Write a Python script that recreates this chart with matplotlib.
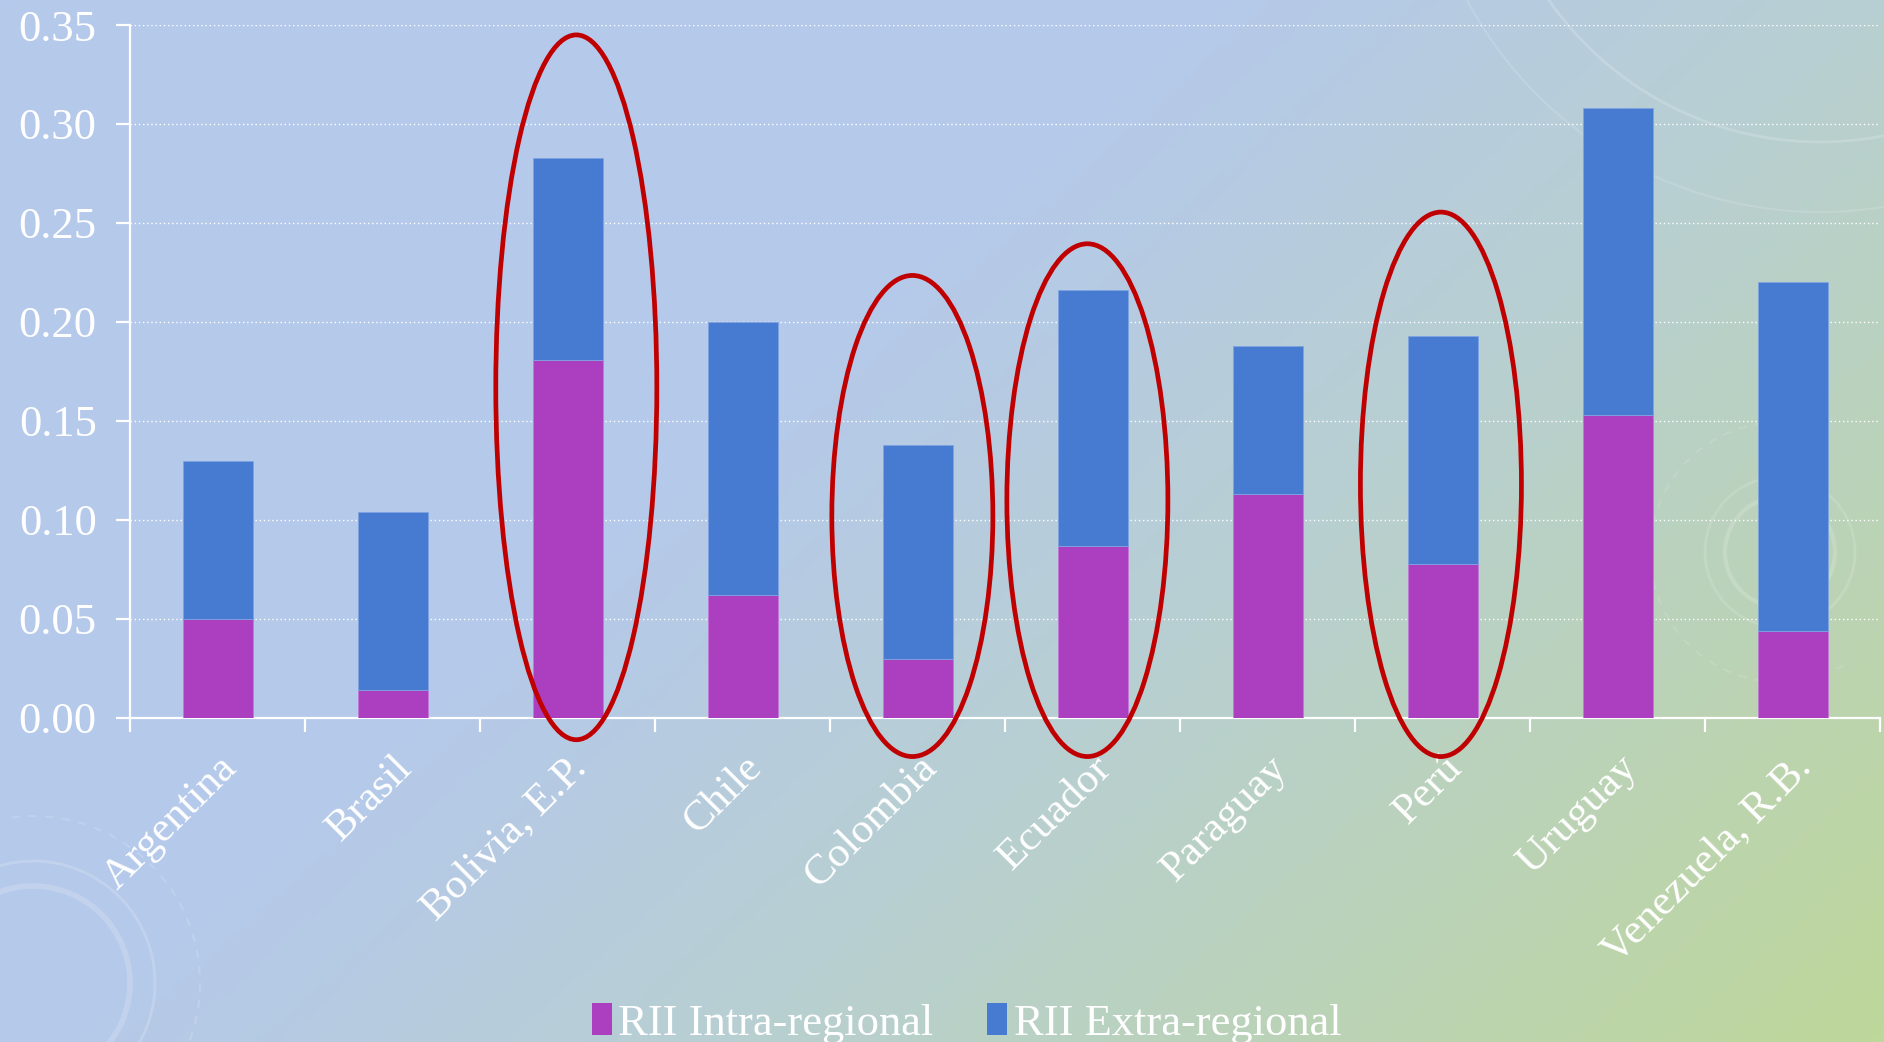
import matplotlib
matplotlib.use("Agg")
import matplotlib.pyplot as plt
import matplotlib.colors as mcolors
from matplotlib.patches import Ellipse, Arc
import numpy as np

# ─────────────────────────────────────────────
# DATA
# ─────────────────────────────────────────────
paises = ["Argentina", "Brasil", "Bolivia, E.P.", "Chile", "Colombia",
          "Ecuador", "Paraguay", "Perú", "Uruguay", "Venezuela, R.B."]
rii_intra = [0.050, 0.014, 0.181, 0.062, 0.030, 0.087, 0.113, 0.078, 0.153, 0.044]
rii_total = [0.130, 0.104, 0.283, 0.200, 0.138, 0.216, 0.188, 0.193, 0.308, 0.220]
rii_extra = [t - i for t, i in zip(rii_total, rii_intra)]

# oval merah: (indeks negara, tengah-y, tinggi)
sorotan_idx = [2, 4, 5, 7]
sorotan_dx = [0.05, -0.03, -0.03, -0.01]
sorotan_cy = [0.167, 0.102, 0.110, 0.118]
sorotan_h = [0.356, 0.243, 0.259, 0.275]

WARNA_INTRA = "#AB3FC0"
WARNA_EXTRA = "#477BD1"
WARNA_OVAL = "#C00000"
FONT = ["Liberation Serif", "DejaVu Serif"]

plt.rcParams["font.family"] = FONT

W, H = 1884, 1042
fig = plt.figure(figsize=(W / 100, H / 100), dpi=100)

# latar gradasi biru -> hijau (diagonal)
bg = fig.add_axes([0, 0, 1, 1], zorder=0)
gx, gy = np.meshgrid(np.linspace(0, 1, 400), np.linspace(0, 1, 220))
t = np.clip(0.62 * gx + 0.38 * gy, 0, 1)
cmap_bg = mcolors.LinearSegmentedColormap.from_list(
    "bg", [(0, "#B5C9EC"), (0.40, "#B5C9EA"), (0.62, "#B8CFD2"), (1, "#BED79A")])
bg.imshow(t, cmap=cmap_bg, aspect="auto", extent=[0, W, 0, H], origin="upper")
bg.set_xlim(0, W)
bg.set_ylim(0, H)


def _busur(cx, cy, r, t1, t2, lw=2, alpha=0.18, ls="-"):
    bg.add_patch(Arc((cx, cy), 2 * r, 2 * r, theta1=t1, theta2=t2,
                     color="white", alpha=alpha, lw=lw, linestyle=ls))


# hiasan samar (kiri bawah, kanan atas, kanan tengah)
_busur(33, 59, 97, -90, 120, lw=4)
_busur(33, 59, 122, -80, 110, lw=2)
_busur(33, 59, 167, -60, 100, lw=1.5, alpha=0.15, ls=(0, (4, 4)))
_busur(1820, 1230, 330, 180, 320, lw=2)
_busur(1820, 1230, 400, 185, 325, lw=1.5, alpha=0.14)
_busur(1780, 490, 55, 0, 360, lw=3, alpha=0.16)
_busur(1780, 490, 75, 0, 360, lw=2, alpha=0.14)
_busur(1780, 490, 130, 90, 300, lw=1.5, alpha=0.12, ls=(0, (4, 4)))
bg.axis("off")

ax = fig.add_axes([0.069, 0.311, 0.929, 0.665], zorder=1)
ax.patch.set_alpha(0)

x = np.arange(len(paises))
ax.bar(x, rii_intra, 0.4, color=WARNA_INTRA, edgecolor="#C07AD8",
       linewidth=0.6, label="RII Intra-regional", zorder=3)
ax.bar(x, rii_extra, 0.4, bottom=rii_intra, color=WARNA_EXTRA,
       edgecolor="#7FA3E0", linewidth=0.6, label="RII Extra-regional", zorder=3)

for i, dx, cy, h in zip(sorotan_idx, sorotan_dx, sorotan_cy, sorotan_h):
    ax.add_patch(Ellipse((x[i] + dx, cy), 0.92, h, fill=False,
                         edgecolor=WARNA_OVAL, linewidth=3.4,
                         zorder=4, clip_on=False))

ax.set_xlim(-0.5, len(paises) - 0.5)
ax.set_ylim(0, 0.35)
ax.set_yticks(np.arange(0, 0.351, 0.05))
ax.set_yticklabels([f"{v:.2f}" for v in np.arange(0, 0.351, 0.05)],
                   fontsize=32, color="white")
ax.grid(axis="y", color="white", linestyle=(0, (1, 2)), linewidth=1.0, zorder=1)
ax.set_axisbelow(True)

ax.set_xticks(x)
ax.set_xticklabels(paises, rotation=45, ha="right", va="top",
                   rotation_mode="anchor", fontsize=31, color="white")
ax.tick_params(axis="x", which="major", length=0, pad=22)
ax.set_xticks(np.arange(-0.5, len(paises), 1), minor=True)
ax.tick_params(axis="x", which="minor", length=10, width=1.6, color="white")
ax.tick_params(axis="y", length=10, width=1.6, color="white", pad=14)

for s in ["top", "right"]:
    ax.spines[s].set_visible(False)
for s in ["left", "bottom"]:
    ax.spines[s].set_color("white")
    ax.spines[s].set_linewidth(1.6)

leg = fig.legend(loc="lower center", bbox_to_anchor=(0.513, -0.04), ncol=2,
                 frameon=False, fontsize=32, handlelength=0.45, handleheight=0.75,
                 handletextpad=0.15, columnspacing=1.2)
for txt in leg.get_texts():
    txt.set_color("white")
for h in leg.legend_handles:
    h.set_edgecolor("none")

fig.savefig("out.png", dpi=100)
